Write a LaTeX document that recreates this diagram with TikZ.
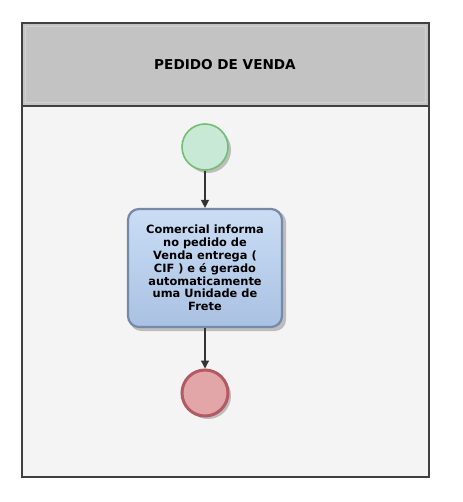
\documentclass[tikz,border=0pt]{standalone}
\usepackage{fontspec}
\setmainfont{DejaVu Sans}
\usetikzlibrary{arrows.meta,shadows}
\definecolor{frameline}{HTML}{404040}
\definecolor{headfill}{HTML}{C3C3C3}
\definecolor{headlight}{HTML}{D2D2D2}
\definecolor{bodyfill}{HTML}{F4F4F4}
\definecolor{startfill}{HTML}{C8E9D6}
\definecolor{startline}{HTML}{72BE72}
\definecolor{endfill}{HTML}{E2A6A9}
\definecolor{endline}{HTML}{B45A62}
\definecolor{tasktop}{HTML}{CADDF4}
\definecolor{taskbot}{HTML}{A9C1E3}
\definecolor{taskline}{HTML}{7689A6}
\definecolor{shadowgray}{HTML}{BDBDBD}
\definecolor{arrowcol}{HTML}{333333}
\tikzset{
  evstart/.style={circle,minimum size=46pt,inner sep=0pt,fill=startfill,draw=startline,line width=1.6pt},
  evend/.style={circle,minimum size=46pt,inner sep=0pt,fill=endfill,draw=endline,line width=3pt},
  taskbox/.style={rectangle,rounded corners=11pt,minimum width=154pt,minimum height=118pt,
    top color=tasktop,bottom color=taskbot,draw=taskline,line width=2.2pt,
    align=center,font=\bfseries\fontsize{11.4}{12.8}\selectfont},
  flow/.style={draw=arrowcol,line width=1.3pt,-{Triangle[length=8pt,width=8pt]}},
  shadowc/.style={circle,minimum size=46pt,inner sep=0pt,fill=shadowgray},
}
\begin{document}
\begin{tikzpicture}[x=1pt,y=-1pt]
\useasboundingbox (0,0) rectangle (462,502);
\fill[white] (0,0) rectangle (462,502);
% body
\fill[bodyfill] (22,106) rectangle (429,477);
% header
\fill[headfill] (22,23) rectangle (429,106);
\draw[headlight,line width=1.2pt] (25.5,26.5) rectangle (425.5,102.5);
\draw[frameline,line width=2.8pt] (22,106) -- (429,106);
\draw[frameline,line width=2.8pt] (22,23) rectangle (429,477);
\node[font=\bfseries\fontsize{13.6}{15}\selectfont] (title) at (225,65) {PEDIDO DE VENDA};
% shadows
\node[shadowc] at (208,150) {};
\fill[shadowgray,rounded corners=11pt] (130,211) rectangle (286,331);
\node[shadowc] at (208,396) {};
% nodes
\node[evstart] (start) at (205,147) {};
\node[taskbox] (task) at (205,268) {Comercial informa\\no pedido de\\Venda entrega (\\CIF ) e é gerado\\automaticamente\\uma Unidade de\\Frete};
\node[evend] (end) at (205,393) {};
% flows
\draw[flow] (start.south) -- (task.north);
\draw[flow] (task.south) -- (end.north);
\end{tikzpicture}
\end{document}
